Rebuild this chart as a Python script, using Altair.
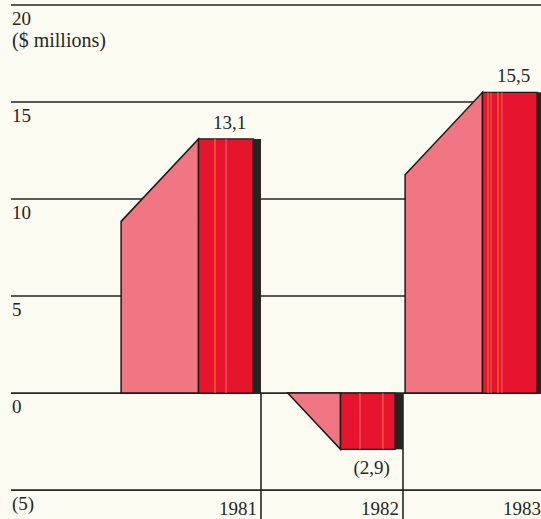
import altair as alt
import pandas as pd

# ---- chart values -------------------------------------------------------
years = ["1981", "1982", "1983"]
values = [13.1, -2.9, 15.5]
value_labels = ["13,1", "(2,9)", "15,5"]
tick_values = [20, 15, 10, 5, 0, -5]
tick_labels = ["20", "15", "10", "5", "0", "(5)"]
unit_label = "($ millions)"

# ---- layout / style -----------------------------------------------------
W, H = 541, 519
# x is measured in "year columns": column i spans [i, i + 1]
X_DOMAIN = [-0.838, 2.972]
Y_DOMAIN = [-6.49, 20.26]
FACE_LEFT = 0.015     # left edge of the receding (pink) face
FRONT_LEFT = 0.56     # left edge of the front (red) face
EDGE_LEFT = 0.945     # left edge of the dark shadow strip
DEPTH = 4.25          # perspective rise of the side face, in value units

PINK = "#EF7682"
RED = "#E6142C"
EDGE = "#23251E"
INK = "#262622"
BG = "#FCFBF1"
FONT = "Liberation Serif"

# thin printing streaks inside the front faces: (column, offset, colour)
streaks = [
    (0, 0.676, "#F7A33A"), (0, 0.754, "#F37A86"),
    (1, 0.697, "#F48A70"), (1, 0.859, "#F48A70"),
    (2, 0.599, "#F7A33A"), (2, 0.620, "#F37A86"),
    (2, 0.669, "#F7A33A"), (2, 0.697, "#F37A86"),
]

xs = alt.Scale(domain=X_DOMAIN, nice=False, zero=False)
ys = alt.Scale(domain=Y_DOMAIN, nice=False, zero=False)

# ---- tables -------------------------------------------------------------
bars = pd.DataFrame({
    "year": years,
    "value": values,
    "label": value_labels,
    "i": range(len(years)),
})
bars["front_l"] = bars["i"] + FRONT_LEFT
bars["edge_l"] = bars["i"] + EDGE_LEFT
bars["col_r"] = bars["i"] + 1.0
bars["mid"] = bars["i"] + (FRONT_LEFT + 1.0) / 2
bars["zero"] = 0.0

face_rows = []
for i, (yr, v) in enumerate(zip(years, values)):
    if v >= 0:
        face_rows.append({"year": yr, "x": i + FACE_LEFT, "top": v - DEPTH, "bot": 0.0})
        face_rows.append({"year": yr, "x": i + FRONT_LEFT, "top": v, "bot": 0.0})
    else:
        start = v + DEPTH
        xc = i + FACE_LEFT + (FRONT_LEFT - FACE_LEFT) * max(start, 0) / DEPTH
        face_rows.append({"year": yr, "x": xc, "top": 0.0, "bot": 0.0})
        face_rows.append({"year": yr, "x": i + FRONT_LEFT, "top": 0.0, "bot": v})
faces = pd.DataFrame(face_rows)

streak_df = pd.DataFrame([
    {"x": i + off, "value": values[i], "zero": 0.0, "c": c} for i, off, c in streaks
])

ticks = pd.DataFrame({"v": tick_values, "t": tick_labels})

# ---- layers -------------------------------------------------------------
grid = alt.Chart(ticks).mark_rule(color=INK, strokeWidth=1.6).encode(
    y=alt.Y("v:Q", scale=ys, axis=None),
    x=alt.value(11),
    x2=alt.value(W),
)

tick_text = alt.Chart(ticks).mark_text(
    align="left", baseline="alphabetic", dy=20, font=FONT, fontSize=19, color=INK
).encode(
    y=alt.Y("v:Q", scale=ys, axis=None),
    x=alt.value(12),
    text="t:N",
)

unit_text = alt.Chart(pd.DataFrame({"v": [tick_values[0]], "t": [unit_label]})).mark_text(
    align="left", baseline="alphabetic", dy=42, font=FONT, fontSize=20, color=INK
).encode(
    y=alt.Y("v:Q", scale=ys, axis=None),
    x=alt.value(12),
    text="t:N",
)

separators = alt.Chart(bars).mark_rule(color=INK, strokeWidth=1.6).encode(
    x=alt.X("col_r:Q", scale=xs, axis=None),
    y=alt.Y("zero:Q", scale=ys, axis=None),
    y2=alt.value(H),
)

side = alt.Chart(faces).mark_area(
    color=PINK, stroke="#1a1a16", strokeWidth=1.5, orient="vertical", strokeJoin="miter"
).encode(
    x=alt.X("x:Q", scale=xs, axis=None),
    y=alt.Y("top:Q", scale=ys, axis=None),
    y2="bot:Q",
    detail="year:N",
)

front = alt.Chart(bars).mark_rect(
    color=RED, stroke="#1a1a16", strokeWidth=1.4
).encode(
    x=alt.X("front_l:Q", scale=xs, axis=None),
    x2="edge_l:Q",
    y=alt.Y("value:Q", scale=ys, axis=None),
    y2="zero:Q",
)

streak_rules = alt.Chart(streak_df).mark_rule(strokeWidth=1, opacity=0.8).encode(
    x=alt.X("x:Q", scale=xs, axis=None),
    y=alt.Y("value:Q", scale=ys, axis=None),
    y2="zero:Q",
    color=alt.Color("c:N", scale=None),
)

edge = alt.Chart(bars).mark_rect(color=EDGE, clip=True).encode(
    x=alt.X("edge_l:Q", scale=xs, axis=None),
    x2="col_r:Q",
    y=alt.Y("value:Q", scale=ys, axis=None),
    y2="zero:Q",
)

label_up = alt.Chart(bars).transform_filter("datum.value >= 0").mark_text(
    baseline="alphabetic", dy=-10, font=FONT, fontSize=19, color=INK
).encode(
    x=alt.X("mid:Q", scale=xs, axis=None),
    y=alt.Y("value:Q", scale=ys, axis=None),
    text="label:N",
)

label_down = alt.Chart(bars).transform_filter("datum.value < 0").mark_text(
    baseline="alphabetic", dy=25, font=FONT, fontSize=19, color=INK
).encode(
    x=alt.X("mid:Q", scale=xs, axis=None),
    y=alt.Y("value:Q", scale=ys, axis=None),
    text="label:N",
)

year_text = alt.Chart(bars).mark_text(
    align="right", baseline="alphabetic", dx=-4, font=FONT, fontSize=19, color=INK
).encode(
    x=alt.X("col_r:Q", scale=xs, axis=None),
    y=alt.value(515),
    text="year:N",
)

chart = alt.layer(
    grid, separators, side, front, streak_rules, edge,
    tick_text, unit_text, label_up, label_down, year_text,
).properties(
    width=W, height=H, background=BG, padding=0,
    autosize=alt.AutoSizeParams(type="none"),
).configure_view(stroke=None)

chart.save("out.html", embed_options={"renderer": "svg", "actions": False})
